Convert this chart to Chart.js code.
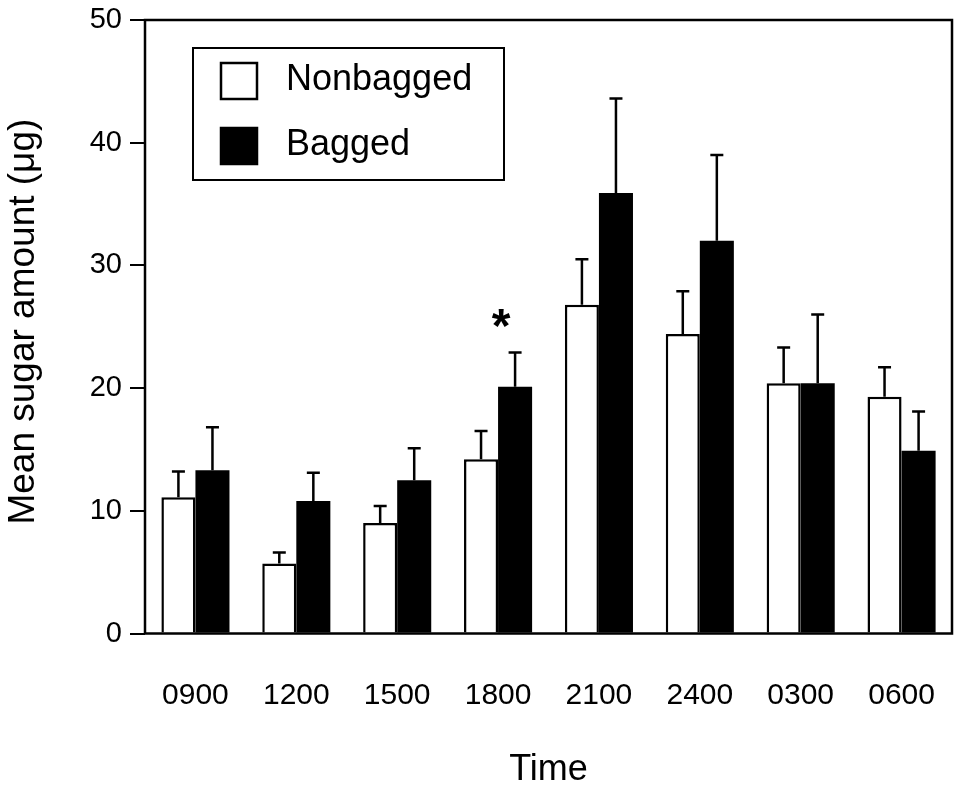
<!DOCTYPE html>
<html>
<head>
<meta charset="utf-8">
<script src="https://cdn.jsdelivr.net/npm/chart.js@4.4.1/dist/chart.umd.min.js"></script>
<style>
  body { margin: 0; background: #fff; }
  canvas { display: block; }
</style>
</head>
<body>
<canvas id="chart" width="960" height="790"></canvas>
<script>
// values
const times = ['0900', '1200', '1500', '1800', '2100', '2400', '0300', '0600'];
const nonbagged = [11.1, 5.7, 9.0, 14.2, 26.8, 24.4, 20.4, 19.3];
const nonbaggedErr = [2.1, 0.9, 1.4, 2.3, 3.7, 3.5, 2.9, 2.4];
const bagged = [13.3, 10.8, 12.5, 20.1, 35.9, 32.0, 20.4, 14.9];
const baggedErr = [3.5, 2.3, 2.6, 2.8, 7.7, 7.0, 5.6, 3.2];
const yTicks = [0, 10, 20, 30, 40, 50];
const starIndex = 3; // significant difference at 1800

const FONT = '"Liberation Sans", Arial, Helvetica, sans-serif';

// error whiskers, frame, legend box and the asterisk
const extras = {
  id: 'extras',
  afterDatasetsDraw(chart) {
    const ctx = chart.ctx;
    const y = chart.scales.y;
    const errs = [nonbaggedErr, baggedErr];
    ctx.save();
    ctx.strokeStyle = '#000';
    ctx.lineWidth = 2.5;
    errs.forEach((errList, di) => {
      const meta = chart.getDatasetMeta(di);
      meta.data.forEach((bar, i) => {
        const v = chart.data.datasets[di].data[i];
        const top = y.getPixelForValue(v + errList[i]);
        ctx.beginPath();
        ctx.moveTo(bar.x, y.getPixelForValue(v));
        ctx.lineTo(bar.x, top);
        ctx.moveTo(bar.x - 6.5, top);
        ctx.lineTo(bar.x + 6.5, top);
        ctx.stroke();
      });
    });

    // asterisk above the bagged bar at 1800
    const sBar = chart.getDatasetMeta(1).data[starIndex];
    const sTop = y.getPixelForValue(bagged[starIndex] + baggedErr[starIndex]);
    ctx.fillStyle = '#000';
    ctx.font = 'bold 48px ' + FONT;
    ctx.textAlign = 'center';
    ctx.textBaseline = 'middle';
    ctx.fillText('*', sBar.x - 14, sTop - 24);
    ctx.restore();
  },
  afterDraw(chart) {
    const ctx = chart.ctx;
    const a = chart.chartArea;
    ctx.save();
    ctx.strokeStyle = '#000';
    ctx.lineWidth = 2.5;
    ctx.strokeRect(a.left, a.top, a.right - a.left, a.bottom - a.top);

    // legend
    const lx = a.left + 48, ly = a.top + 28;
    ctx.lineWidth = 2;
    ctx.strokeRect(lx, ly, 311, 132);
    chart.data.datasets.forEach((ds, i) => {
      const sy = ly + 14 + i * 65;
      ctx.fillStyle = ds.backgroundColor;
      ctx.fillRect(lx + 27, sy, 38, 38);
      ctx.lineWidth = 2.5;
      ctx.strokeRect(lx + 28, sy + 1, 36, 36);
      ctx.fillStyle = '#000';
      ctx.font = '36px ' + FONT;
      ctx.textAlign = 'left';
      ctx.textBaseline = 'alphabetic';
      ctx.fillText(ds.label, lx + 93, sy + 28);
    });
    ctx.restore();
  }
};

new Chart(document.getElementById('chart'), {
  type: 'bar',
  data: {
    labels: times,
    datasets: [
      {
        label: 'Nonbagged',
        data: nonbagged,
        backgroundColor: '#ffffff',
        borderColor: '#000000',
        borderWidth: 2.5,
      },
      {
        label: 'Bagged',
        data: bagged,
        backgroundColor: '#000000',
        borderColor: '#000000',
        borderWidth: 0,
      }
    ]
  },
  options: {
    responsive: false,
    animation: false,
    devicePixelRatio: 1,
    categoryPercentage: 0.675,
    barPercentage: 1.0,
    layout: { padding: { top: 20, right: 8, left: 0, bottom: 0 } },
    plugins: {
      legend: { display: false },
      tooltip: { enabled: false },
    },
    scales: {
      x: {
        afterFit: (scale) => {
          scale.height = 156.5;
          scale.paddingLeft = 0;
          scale.paddingRight = 0;
        },
        grid: { display: false, drawTicks: false, tickLength: 0 },
        border: { display: false },
        ticks: { color: '#000', padding: 44, font: { family: FONT, size: 30 } },
        title: {
          display: true,
          text: 'Time',
          color: '#000',
          padding: { top: 0, bottom: -2 },
          font: { family: FONT, size: 36 }
        }
      },
      y: {
        min: 0,
        max: 50,
        afterFit: (scale) => {
          scale.width = 145;
          scale.paddingTop = 0;
          scale.paddingBottom = 0;
        },
        afterBuildTicks: (scale) => { scale.ticks = yTicks.map(v => ({ value: v })); },
        grid: {
          drawOnChartArea: false,
          color: '#000',
          lineWidth: 2,
          tickLength: 15,
        },
        border: { display: false },
        ticks: { color: '#000', padding: 8, font: { family: FONT, size: 29 } },
        title: {
          display: true,
          text: '\u00a0Mean sugar amount (μg)',
          color: '#000',
          padding: { top: 2, bottom: 0 },
          font: { family: FONT, size: 37 }
        }
      }
    }
  },
  plugins: [extras]
});
</script>
</body>
</html>
